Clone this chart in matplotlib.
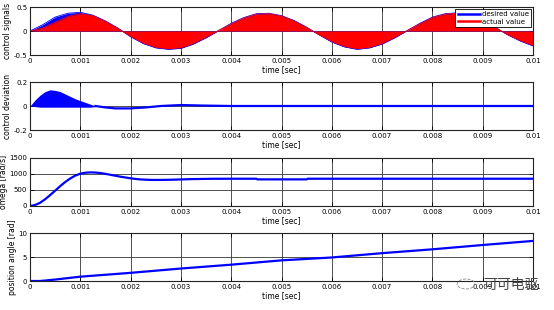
import numpy as np
import matplotlib.pyplot as plt
from matplotlib.lines import Line2D
from matplotlib.patches import Circle

plt.rcParams['font.family'] = ['DejaVu Sans']

# time base of the envelope readings (s)
t_env = np.arange(41) * 0.00025

# upper envelope of the chopped "actual value" signal
actual_env = [0.0, 0.06, 0.18, 0.30, 0.36, 0.32, 0.20, 0.05, -0.11, -0.25,
              -0.34, -0.37, -0.35, -0.26, -0.13, 0.01, 0.15, 0.27, 0.35, 0.36,
              0.31, 0.21, 0.07, -0.08, -0.22, -0.32, -0.37, -0.34, -0.26, -0.13,
              0.01, 0.15, 0.28, 0.35, 0.37, 0.32, 0.22, 0.07, -0.08, -0.20, -0.30]
# envelope of the "desired value" signal
desired_env = [0.0, 0.13, 0.29, 0.37, 0.39, 0.33, 0.21, 0.06, -0.12, -0.26,
               -0.35, -0.38, -0.36, -0.27, -0.14, 0.01, 0.16, 0.28, 0.36, 0.37,
               0.32, 0.22, 0.08, -0.08, -0.23, -0.33, -0.38, -0.35, -0.27, -0.14,
               0.01, 0.16, 0.29, 0.36, 0.38, 0.33, 0.23, 0.08, -0.08, -0.21, -0.31]

# control deviation: oscillating part at start
dev_t = [0.0, 0.0001, 0.0002, 0.0003, 0.0004, 0.0005, 0.0006, 0.0007, 0.0008,
         0.0009, 0.001, 0.0011, 0.0012, 0.0013]
dev_hi = [0.0, 0.05, 0.09, 0.12, 0.135, 0.13, 0.12, 0.10, 0.08, 0.06, 0.045,
          0.03, 0.015, 0.0]
dev_lo = [0.0, -0.005, -0.01, -0.01, -0.01, -0.01, -0.01, -0.01, -0.01, -0.01,
          -0.01, -0.01, -0.01, -0.005]
# control deviation: settled part
dev2_t = [0.0013, 0.0015, 0.0017, 0.002, 0.0023, 0.0026, 0.003, 0.0034, 0.004,
          0.005, 0.006, 0.007, 0.008, 0.009, 0.01]
dev2 = [0.0, -0.012, -0.02, -0.02, -0.012, 0.0, 0.008, 0.004, 0.0, 0.0, 0.0,
        0.0, 0.0, 0.0, 0.0]

# omega [rad/s]
om_t = [0.0, 0.0001, 0.0002, 0.0003, 0.0004, 0.0005, 0.0006, 0.0007, 0.0008,
        0.0009, 0.001, 0.0011, 0.0012, 0.0013, 0.0014, 0.0015, 0.0016, 0.0017,
        0.0018, 0.0019, 0.002, 0.0021, 0.0022, 0.0024, 0.0026, 0.0028, 0.003,
        0.0032, 0.0034, 0.0036, 0.004, 0.0045, 0.00452, 0.0055, 0.00552, 0.007,
        0.0085, 0.01]
omega = [0, 30, 100, 210, 340, 480, 620, 750, 860, 950, 1010, 1040, 1050, 1045,
         1030, 1005, 975, 945, 915, 890, 865, 845, 830, 815, 815, 820, 830, 840,
         845, 850, 852, 852, 832, 832, 852, 852, 852, 852]

# position angle [rad]
pos_t = [0.0, 0.0002, 0.0005, 0.001, 0.002, 0.003, 0.004, 0.005, 0.006, 0.007,
         0.008, 0.009, 0.01]
pos = [0.0, 0.0, 0.3, 0.9, 1.7, 2.6, 3.4, 4.3, 4.9, 5.8, 6.6, 7.5, 8.35]

xticks = [0, 0.001, 0.002, 0.003, 0.004, 0.005, 0.006, 0.007, 0.008, 0.009, 0.01]
xticklabels = ['0', '0.001', '0.002', '0.003', '0.004', '0.005', '0.006',
               '0.007', '0.008', '0.009', '0.01']

blue = '#0000ff'
red = '#ff0000'

fig = plt.figure(figsize=(5.54, 3.10), dpi=100)
left, width, height = 30 / 554, 503 / 554, 48 / 310
bottoms = [1 - 55 / 310, 1 - 130 / 310, 1 - 206 / 310, 1 - 281 / 310]
axes = [fig.add_axes([left, b, width, height]) for b in bottoms]

ylabels = ['control signals', 'control deviation', 'omega [rad/s]',
           'position angle [rad]']
ylims = [(-0.5, 0.5), (-0.2, 0.2), (0, 1500), (0, 10)]
yticks = [[-0.5, 0, 0.5], [-0.2, 0, 0.2], [0, 500, 1000, 1500], [0, 5, 10]]
yticklabels = [['-0.5', '0', '0.5'], ['-0.2', '0', '0.2'],
               ['0', '500', '1000', '1500'], ['0', '5', '10']]

ax = axes[0]
ax.fill_between(t_env, 0, desired_env, color=blue, lw=0)
ax.plot(t_env, desired_env, color=blue, lw=0.6)
ax.fill_between(t_env, 0, actual_env, color=red, lw=0)
ax.plot(t_env, actual_env, color=red, lw=0.6)
handles = [Line2D([], [], color=blue, lw=1.8), Line2D([], [], color=red, lw=1.8)]
leg = ax.legend(handles, ['desired value', 'actual value'], loc='upper right',
                fontsize=5, fancybox=False, framealpha=1, edgecolor='black',
                handlelength=3.2, borderpad=0.3, labelspacing=0.2,
                handletextpad=0.3, borderaxespad=0.3)
leg.get_frame().set_linewidth(0.6)

ax = axes[1]
ax.fill_between(dev_t, dev_lo, dev_hi, color=blue, lw=0)
ax.plot(dev2_t, dev2, color=blue, lw=1.6)

axes[2].plot(om_t, omega, color=blue, lw=1.6)
axes[3].plot(pos_t, pos, color=blue, lw=1.6)

for ax, yl, lim, yt, ytl in zip(axes, ylabels, ylims, yticks, yticklabels):
    ax.set_xlim(0, 0.01)
    ax.set_ylim(*lim)
    ax.set_xticks(xticks)
    ax.set_xticklabels(xticklabels)
    ax.set_yticks(yt)
    ax.set_yticklabels(ytl)
    ax.grid(True, color='#333333', lw=0.6)
    ax.set_axisbelow(True)
    ax.tick_params(direction='in', top=True, right=True, labelsize=5,
                   length=3, width=0.6, pad=2)
    for s in ax.spines.values():
        s.set_color('#222222')
        s.set_linewidth(0.8)
    ax.set_ylabel(yl, fontsize=5.5, labelpad=1)
    ax.set_xlabel('time [sec]', fontsize=5.5, labelpad=1)

# watermark
fig.text(511 / 554, 1 - 285 / 310, '可可电驱', fontsize=10, color='#444444',
         ha='center', va='center', family=['Noto Sans CJK SC', 'DejaVu Sans'])
fig.patches.append(Circle((466 / 554, 1 - 284 / 310), 0.016, transform=fig.transFigure,
                          fill=False, edgecolor='#888888', lw=0.6, ls='--'))

fig.savefig('out.png', dpi=100)
